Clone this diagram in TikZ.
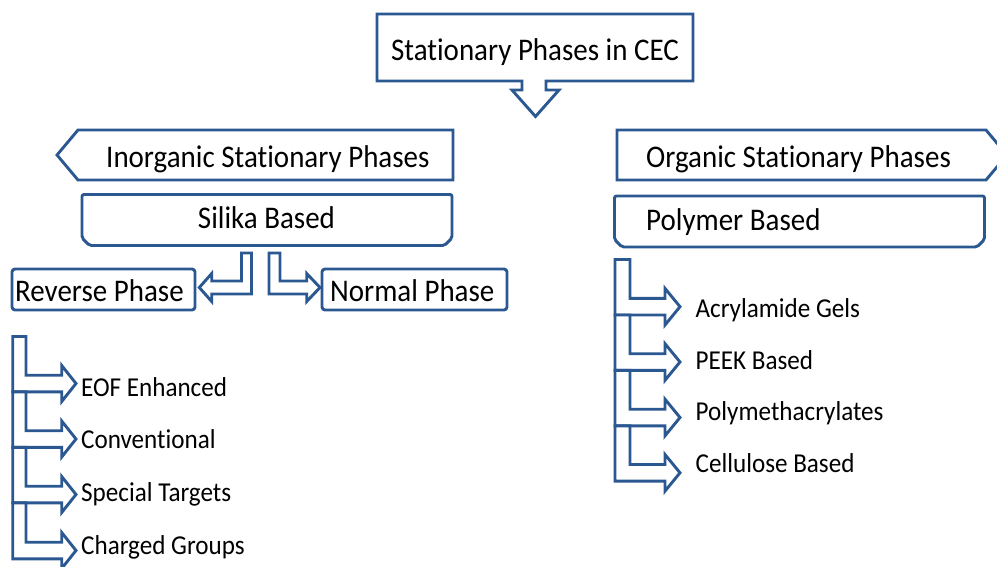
\documentclass[tikz,border=0pt]{standalone}
\usepackage{fontspec}
\setmainfont[Ligatures=NoCommon,FakeStretch=0.92]{Carlito}
\definecolor{shapeblue}{RGB}{44,88,146}
\begin{document}
\begin{tikzpicture}[x=1pt,y=-1pt,
  shp/.style={draw=shapeblue,line width=2.9pt,fill=white,line join=miter},
  rbox/.style={shp,rounded corners=3pt},
  hdr/.style={font=\fontsize{31.5}{36}\selectfont,inner sep=0pt,anchor=base west},
  itm/.style={font=\fontsize{27.3}{32}\selectfont,inner sep=0pt,anchor=base west}]
\useasboundingbox (0,0) rectangle (997,566);
\clip (0,0) rectangle (997,566);

% title callout
\draw[shp] (377,14) -- (693,14) -- (693,81) -- (546,81) -- (546,90) -- (559,90)
  -- (535.5,116.5) -- (512,90) -- (522,90) -- (522,81) -- (377,81) -- cycle;
\node[font=\fontsize{31.5}{36}\selectfont,inner sep=0pt,anchor=base] (title) at (535,60) {Stationary Phases in CEC};

% inorganic header (left-pointing pentagon)
\draw[shp] (453,130) -- (78,130) -- (57,155) -- (78,180) -- (453,180) -- cycle;
\node[hdr] (inorg) at (106,167.5) {Inorganic Stationary Phases};

% organic header (right-pointing pentagon)
\draw[shp] (617,130) -- (986,130) -- (1007,155) -- (986,180) -- (617,180) -- cycle;
\node[hdr] (org) at (646,167.5) {Organic Stationary Phases};

% silika based
\draw[shp,rounded corners=2pt] (82,194.5) -- (452,194.5) -- (452,238) -- (444.5,245.5)
  -- (89.5,245.5) -- (82,238) -- cycle;
\node[hdr,anchor=base] (silika) at (266.5,228.5) {Silika Based};

% polymer based
\draw[shp,rounded corners=2pt] (614.5,196) -- (984.5,196) -- (984.5,239.5) -- (977,247)
  -- (622,247) -- (614.5,239.5) -- cycle;
\node[hdr] (polymer) at (646,230) {Polymer Based};

% reverse / normal phase boxes
\draw[rbox] (12,269) rectangle (195,310);
\node[hdr] (reverse) at (15,301) {Reverse Phase};
\draw[rbox] (322,269) rectangle (507,310);
\node[hdr] (normal) at (330,301) {Normal Phase};

% bent arrows from silika
\draw[shp] (241.5,253) -- (251.5,253) -- (251.5,294) -- (211.7,294) -- (211.7,301.5)
  -- (199.3,287.5) -- (211.7,273.5) -- (211.7,281) -- (241.5,281) -- cycle;
\draw[shp] (280,253) -- (269,253) -- (269,294) -- (306.7,294) -- (306.7,301.5)
  -- (320,287.5) -- (306.7,273.5) -- (306.7,281) -- (280,281) -- cycle;

% left list of bent arrows
\foreach \t/\c in {336.5/383.5, 391.8/439, 447.3/494.5, 502.8/550.5} {
  \draw[shp] (12.7,\t) -- (26,\t) -- (26,{\c-8.3}) -- (61.7,{\c-8.3}) -- (61.7,{\c-18})
    -- (76,\c) -- (61.7,{\c+18}) -- (61.7,{\c+8.3}) -- (12.7,{\c+8.3}) -- cycle;
}
\node[itm] (eof) at (81,396) {EOF Enhanced};
\node[itm] (conv) at (81,448.3) {Conventional};
\node[itm] (spec) at (81,501.3) {Special Targets};
\node[itm] (charged) at (81,554) {Charged Groups};

% right list of bent arrows
\foreach \t/\c in {259.5/306.7, 315/362, 370.3/417.5, 425.8/472.8} {
  \draw[shp] (615,\t) -- (630,\t) -- (630,{\c-8.3}) -- (665,{\c-8.3}) -- (665,{\c-18.3})
    -- (680,\c) -- (665,{\c+18.3}) -- (665,{\c+8.3}) -- (615,{\c+8.3}) -- cycle;
}
\node[itm] (acryl) at (695.5,317.7) {Acrylamide Gels};
\node[itm] (peek) at (695.5,369.3) {PEEK Based};
\node[itm] (polymeth) at (695.5,420.7) {Polymethacrylates};
\node[itm] (cellu) at (695.5,472.7) {Cellulose Based};
\end{tikzpicture}
\end{document}
